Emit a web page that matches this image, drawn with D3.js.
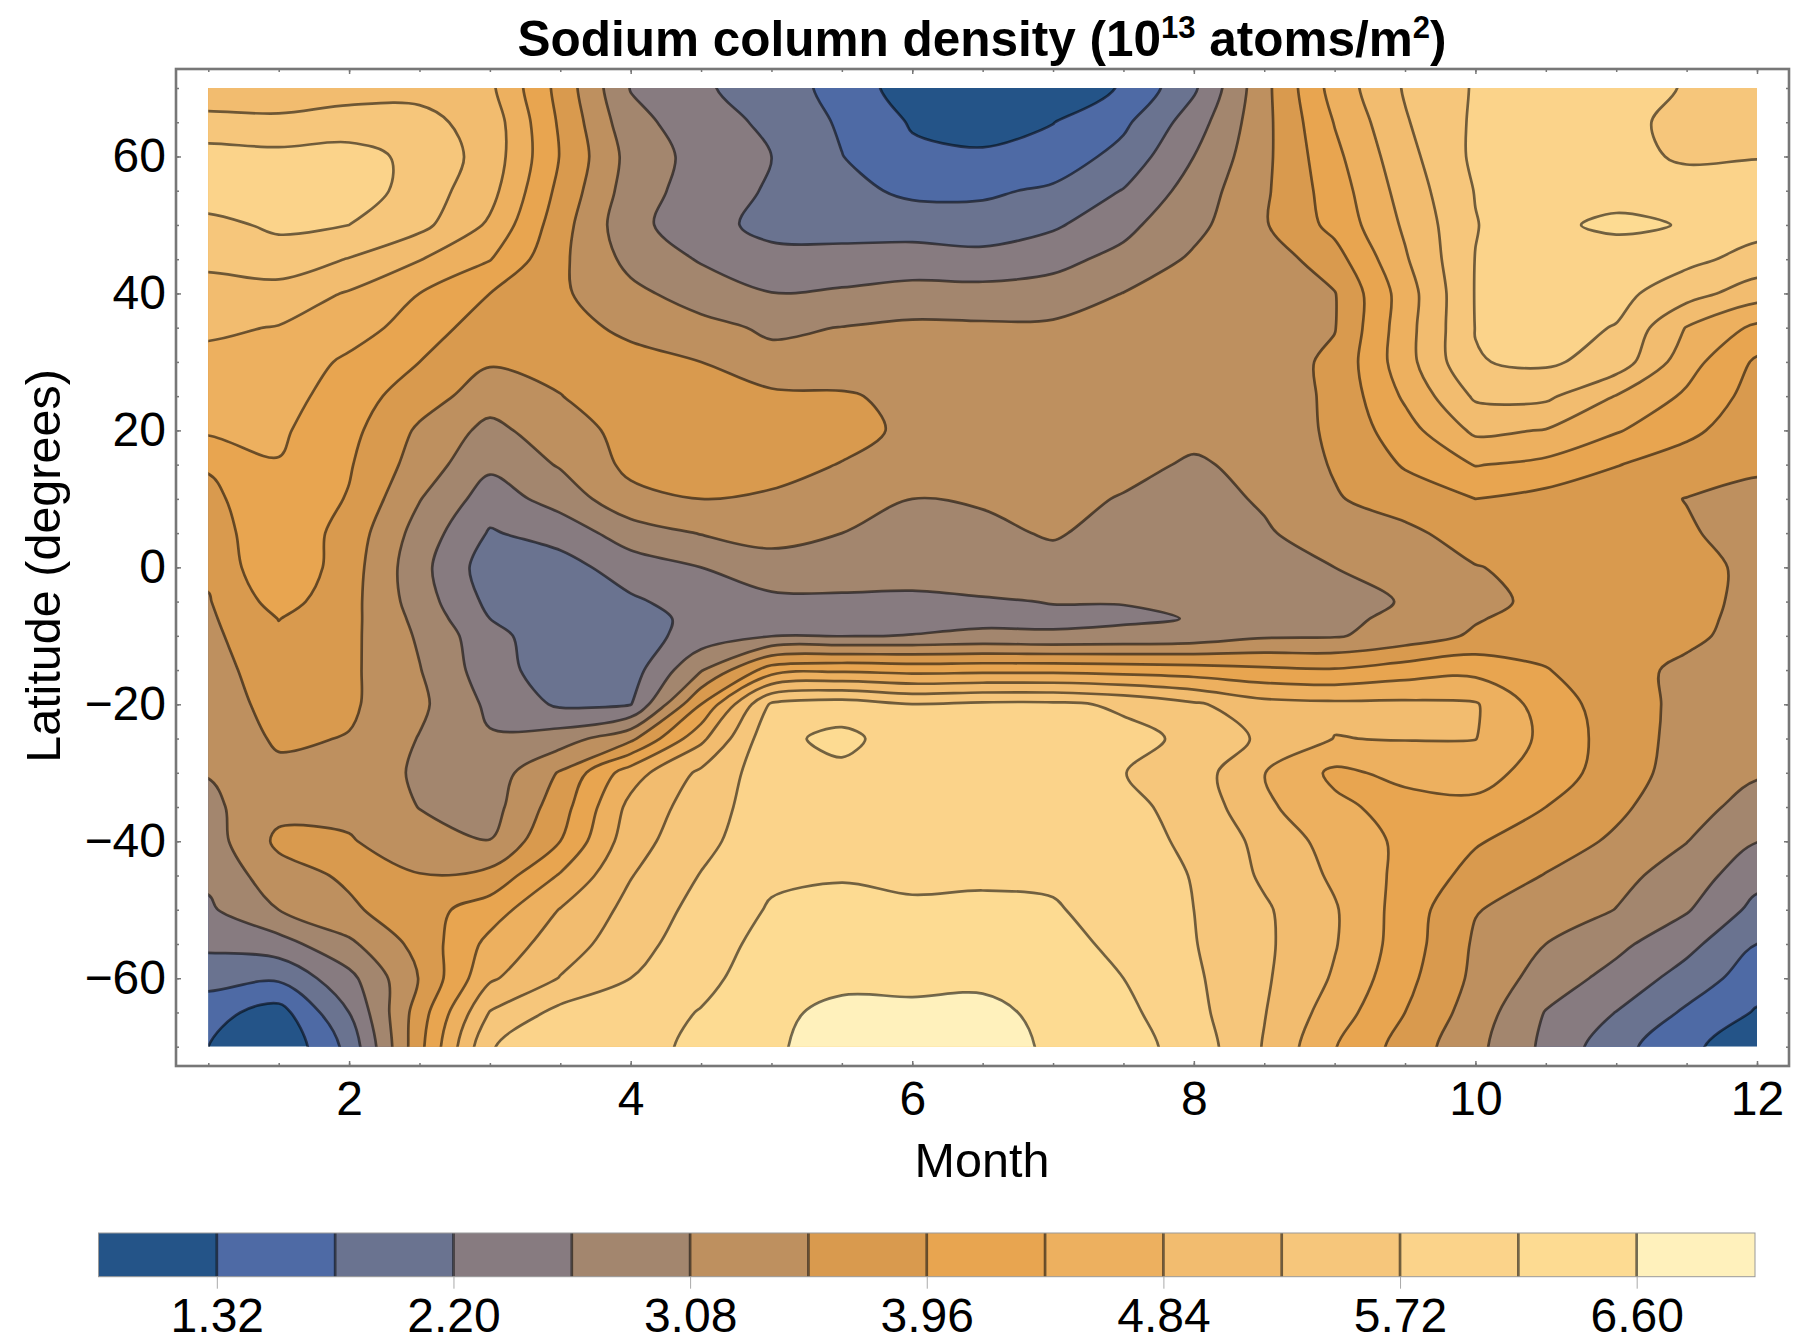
<!DOCTYPE html>
<html>
<head>
<meta charset="utf-8">
<script src="https://cdn.jsdelivr.net/npm/d3@7"></script>
<style>
  html,body{margin:0;padding:0;background:#fff}
  svg{display:block}
  text{font-family:'Liberation Sans',Arial,sans-serif;fill:#000}
</style>
</head>
<body>
<svg id="chart" width="1794" height="1343"></svg>
<script>
const months=[1,1.5,2,2.5,3,3.5,4,4.5,5,5.5,6,6.5,7,7.5,8,8.5,9,9.5,10,10.5,11,11.5,12]
const lats=[70,65,60,55,50,45,40,35,30,25,20,15,10,5,0,-5,-7.5,-10,-15,-20,-25,-30,-35,-40,-45,-50,-55,-60,-65,-70]
const levels=[1.32,1.76,2.20,2.64,3.08,3.52,3.96,4.40,4.84,5.28,5.72,6.16,6.60]
const barEnds=[0.88,7.04]
const barTicks=[1.32,2.20,3.08,3.96,4.84,5.72,6.60]
const bandColors=['#245488','#4e6aa5','#6a7390','#877b80','#a3866e','#be905f','#d99a4e','#e8a550','#edb05f','#f2bc6f','#f6c67b','#fbd38a','#fddb92','#fff1bc']
// one column per month, rows follow lats
const sodium=[
  [4.97,5.43,5.90,5.94,5.61,5.37,5.13,4.91,4.73,4.58,4.47,4.00,3.85,3.73,3.60,3.49,3.45,3.41,3.33,3.25,3.17,3.10,2.98,2.86,2.73,2.57,2.29,1.94,1.47,1.32],
  [5.02,5.37,5.85,5.98,5.79,5.54,5.10,4.82,4.71,4.58,4.47,4.38,4.29,4.31,4.36,4.14,3.97,3.89,3.78,3.70,3.59,3.41,3.39,3.61,3.34,3.08,2.46,1.83,1.14,0.92],
  [5.10,5.46,5.90,5.98,5.72,5.26,4.80,4.62,4.31,4.18,4.09,4.00,3.93,3.78,3.72,3.67,3.65,3.63,3.61,3.59,3.50,3.37,3.39,3.56,3.59,3.45,2.99,2.51,2.20,1.89],
  [5.15,5.41,5.59,5.52,5.41,4.86,4.40,4.18,3.96,3.72,3.45,3.32,3.10,2.90,2.79,2.86,2.95,3.02,3.10,3.17,3.06,3.01,3.07,3.23,3.54,3.78,3.67,3.54,3.74,3.83],
  [4.93,5.10,5.10,4.99,4.77,4.42,3.96,3.74,3.56,3.30,2.95,2.73,2.42,2.16,1.96,2.09,2.20,2.35,2.40,2.55,2.68,2.82,2.90,3.09,3.65,4.18,4.53,4.77,5.30,5.70],
  [3.81,3.89,3.94,3.83,3.70,3.61,3.59,3.67,3.63,3.51,3.34,3.12,2.82,2.38,2.02,1.91,1.89,1.89,1.94,2.13,2.86,3.56,3.76,3.96,4.44,4.86,5.06,5.30,5.85,5.94],
  [2.62,2.78,2.92,2.86,2.77,2.95,3.19,3.43,3.65,3.74,3.65,3.63,3.39,2.86,2.42,2.13,2.07,2.00,2.00,2.18,3.41,4.64,4.97,5.10,5.26,5.41,5.54,5.72,5.96,6.03],
  [2.27,2.41,2.48,2.43,2.38,2.60,2.88,3.21,3.52,3.70,3.78,3.74,3.52,3.10,2.64,2.40,2.29,2.38,3.04,3.96,4.73,5.37,5.50,5.59,5.74,5.87,5.98,6.05,6.18,6.24],
  [1.95,2.10,2.20,2.15,2.05,2.35,2.65,3.01,3.21,3.61,3.74,3.70,3.45,3.26,2.86,2.55,2.52,2.62,4.18,5.79,6.05,5.98,5.98,6.03,6.09,6.20,6.29,6.38,6.49,6.53],
  [1.63,1.70,1.77,1.89,2.07,2.31,2.71,3.09,3.30,3.56,3.70,3.50,3.28,3.08,2.84,2.57,2.52,2.62,4.31,5.94,6.27,6.07,6.05,6.07,6.12,6.31,6.40,6.47,6.73,6.82],
  [1.06,1.28,1.41,1.67,2.00,2.40,2.79,3.17,3.32,3.43,3.41,3.26,3.08,2.93,2.79,2.57,2.53,2.65,4.25,5.73,5.94,6.01,6.03,6.05,6.07,6.23,6.36,6.49,6.69,6.82],
  [1.08,1.21,1.36,1.69,1.94,2.35,2.79,3.15,3.23,3.30,3.28,3.21,3.12,2.99,2.82,2.61,2.55,2.71,4.27,5.81,5.98,6.05,6.07,6.09,6.09,6.25,6.38,6.51,6.71,6.80],
  [1.17,1.31,1.50,1.83,2.13,2.53,2.79,3.17,3.28,3.30,3.28,3.23,3.17,3.12,2.93,2.65,2.59,2.67,4.27,5.81,5.92,5.98,6.03,6.05,6.09,6.20,6.29,6.40,6.49,6.53],
  [1.34,1.67,1.91,2.22,2.53,2.75,3.09,3.17,3.23,3.28,3.26,3.17,3.06,2.93,2.77,2.65,2.60,2.71,4.22,5.65,5.85,5.73,5.83,5.90,5.94,5.98,6.07,6.16,6.27,6.34],
  [2.13,2.42,2.64,2.83,2.95,3.15,3.21,3.23,3.26,3.23,3.17,3.04,2.95,2.86,2.77,2.66,2.65,2.79,4.16,5.35,5.63,5.50,5.57,5.63,5.70,5.72,5.74,5.79,5.85,5.98],
  [3.39,3.39,3.41,3.45,3.48,3.26,3.36,3.39,3.30,3.26,3.21,3.17,3.12,3.04,2.86,2.75,2.86,3.01,4.05,4.99,5.19,4.85,4.93,5.15,5.21,5.34,5.36,5.34,5.30,5.25],
  [4.58,4.42,4.29,4.18,4.09,3.78,3.50,3.50,3.61,3.61,3.61,3.56,3.48,3.26,3.08,2.86,2.95,3.04,4.00,4.93,4.83,4.31,4.49,4.66,4.77,4.88,4.87,4.79,4.62,4.42],
  [5.32,5.24,5.13,5.02,4.91,4.79,4.62,4.66,4.66,4.47,4.22,4.00,3.74,3.41,3.27,3.12,3.21,3.26,4.18,4.93,4.86,4.51,4.25,4.31,4.27,4.20,4.18,4.09,3.96,3.78],
  [5.76,5.79,5.81,5.74,5.70,5.73,5.74,5.73,5.70,5.35,4.93,4.42,3.96,3.74,3.50,3.37,3.48,3.59,4.27,4.88,4.85,4.58,4.29,4.00,3.81,3.54,3.46,3.42,3.31,3.20],
  [6.03,6.12,6.07,6.07,6.09,6.03,5.96,5.87,5.79,5.37,4.82,4.29,3.81,3.70,3.65,3.65,3.72,3.78,3.98,4.18,4.29,4.20,3.96,3.74,3.50,3.34,3.08,2.88,2.62,2.54],
  [5.98,5.85,5.81,6.03,6.23,5.98,5.85,5.70,5.54,4.82,4.44,3.98,3.67,3.63,3.63,3.72,3.73,3.74,3.70,3.75,3.75,3.74,3.61,3.45,3.21,3.07,2.75,2.49,2.19,1.92],
  [5.68,5.59,5.68,5.85,6.14,5.83,5.46,4.82,4.58,4.33,4.07,3.74,3.51,3.56,3.70,3.65,3.65,3.63,3.41,3.39,3.37,3.32,3.23,3.09,2.88,2.68,2.33,2.02,1.69,1.41],
  [5.54,5.61,5.71,5.83,5.87,5.57,5.04,4.31,3.89,3.78,3.67,3.56,3.45,3.37,3.39,3.41,3.37,3.32,3.28,3.23,3.19,3.12,2.93,2.65,2.35,2.07,1.76,1.52,1.28,1.06]
]

const svg=d3.select('#chart')
const frame={left:176,right:1789,top:69,bottom:1066}
const x=d3.scaleLinear().domain([1,12]).range([208.3,1757])
const y=d3.scaleLinear().domain([70,-70]).range([88,1046.7])

// grid padded by one cell on every side so contour rings close outside the plot
const nx=months.length,ny=lats.length
const w=nx+2,h=ny+2
const grid=new Float64Array(w*h)
for(let j=0;j<h;j++){
  for(let i=0;i<w;i++){
    const ci=Math.min(nx-1,Math.max(0,i-1))
    const cj=Math.min(ny-1,Math.max(0,j-1))
    grid[i+j*w]=sodium[ci][cj]
  }
}
const monthOfCol=d3.scaleLinear().domain(months.map((_,i)=>i+1.5)).range(months)
const latOfRow=d3.scaleLinear().domain(lats.map((_,j)=>j+1.5)).range(lats)
const contours=d3.contours().size([w,h]).thresholds(levels)(Array.from(grid))

const ringLine=d3.line()
  .x(p=>x(monthOfCol(p[0])))
  .y(p=>y(latOfRow(p[1])))
  .curve(d3.curveCatmullRomClosed.alpha(0.5))
function contourPath(geo){
  let out=''
  geo.coordinates.forEach(poly=>{
    poly.forEach(ring=>{
      const pts=ring.slice(0,-1).filter((p,i,a)=>{
        if(i===0) return true
        return Math.abs(p[0]-a[i-1][0])+Math.abs(p[1]-a[i-1][1])>0.02
      })
      out+=ringLine(pts)
    })
  })
  return out
}

svg.append('defs').append('clipPath').attr('id','plotClip').append('rect')
  .attr('x',x(1)).attr('y',y(70))
  .attr('width',x(12)-x(1)).attr('height',y(-70)-y(70))

const plot=svg.append('g').attr('clip-path','url(#plotClip)')
plot.append('rect')
  .attr('x',x(1)).attr('y',y(70))
  .attr('width',x(12)-x(1)).attr('height',y(-70)-y(70))
  .attr('fill',bandColors[0])
plot.selectAll('path.band')
  .data(contours)
  .join('path')
  .attr('class','band')
  .attr('d',contourPath)
  .attr('fill',(d,i)=>bandColors[i+1])
  .attr('fill-rule','evenodd')
plot.selectAll('path.iso')
  .data(contours)
  .join('path')
  .attr('class','iso')
  .attr('d',contourPath)
  .attr('fill','none')
  .attr('stroke','#000')
  .attr('stroke-opacity',0.55)
  .attr('stroke-width',2.7)
  .attr('stroke-linejoin','round')

// frame and its inward ticks
svg.append('rect')
  .attr('x',frame.left).attr('y',frame.top)
  .attr('width',frame.right-frame.left).attr('height',frame.bottom-frame.top)
  .attr('fill','none').attr('stroke','#777').attr('stroke-width',2.6)

const monthMinor=d3.range(1,12.5,0.5)
const monthMajor=[2,4,6,8,10,12]
const latMinor=d3.range(-70,75,5)
const latMajor=[-60,-40,-20,0,20,40,60]
function ticks(axisFn,scale,values,size,tx,ty){
  svg.append('g')
    .attr('transform',`translate(${tx},${ty})`)
    .call(axisFn(scale).tickValues(values).tickSize(size).tickFormat(''))
    .call(g=>g.select('.domain').remove())
    .call(g=>g.selectAll('line').attr('stroke','#777').attr('stroke-width',1.5))
}
ticks(d3.axisTop,x,monthMinor,3,0,frame.bottom)
ticks(d3.axisTop,x,monthMajor,5,0,frame.bottom)
ticks(d3.axisBottom,x,monthMinor,3,0,frame.top)
ticks(d3.axisBottom,x,monthMajor,5,0,frame.top)
ticks(d3.axisRight,y,latMinor,3,frame.left,0)
ticks(d3.axisRight,y,latMajor,5,frame.left,0)
ticks(d3.axisLeft,y,latMinor,3,frame.right,0)
ticks(d3.axisLeft,y,latMajor,5,frame.right,0)

function labels(g){
  g.select('.domain').remove()
  g.selectAll('text').style('font-size','48px').style('font-family',"'Liberation Sans',Arial,sans-serif")
}
svg.append('g')
  .attr('transform',`translate(0,${frame.bottom})`)
  .call(d3.axisBottom(x).tickValues(monthMajor).tickSize(0).tickPadding(15))
  .call(labels)
svg.append('g')
  .attr('transform',`translate(${frame.left},0)`)
  .call(d3.axisLeft(y).tickValues(latMajor).tickSize(0).tickPadding(10))
  .call(labels)

svg.append('text')
  .attr('x',982).attr('y',1177)
  .attr('text-anchor','middle')
  .style('font-size','48.5px')
  .text('Month')
svg.append('text')
  .attr('transform','translate(60,566) rotate(-90)')
  .attr('text-anchor','middle')
  .style('font-size','48.5px')
  .text('Latitude (degrees)')

const title=svg.append('text')
  .attr('x',982).attr('y',56)
  .attr('text-anchor','middle')
  .style('font-size','49.5px')
  .style('font-weight','700')
title.append('tspan').text('Sodium column density (10')
title.append('tspan').attr('dy',-18).style('font-size','31px').text('13')
title.append('tspan').attr('dy',18).text(' atoms/m')
title.append('tspan').attr('dy',-18).style('font-size','31px').text('2')
title.append('tspan').attr('dy',18).text(')')

// colour bar
const barScale=d3.scaleLinear().domain(barEnds).range([98.5,1755])
const barTop=1233,barBottom=1276.7
const barEdges=[barEnds[0],...levels,barEnds[1]]
const bar=svg.append('g')
bar.selectAll('rect')
  .data(bandColors)
  .join('rect')
  .attr('x',(d,i)=>barScale(barEdges[i]))
  .attr('y',barTop)
  .attr('width',(d,i)=>barScale(barEdges[i+1])-barScale(barEdges[i]))
  .attr('height',barBottom-barTop)
  .attr('fill',d=>d)
bar.selectAll('line')
  .data(levels)
  .join('line')
  .attr('x1',d=>barScale(d)).attr('x2',d=>barScale(d))
  .attr('y1',barTop).attr('y2',barBottom)
  .attr('stroke','#000').attr('stroke-opacity',0.55).attr('stroke-width',2.7)
bar.append('rect')
  .attr('x',barScale(barEnds[0])).attr('y',barTop)
  .attr('width',barScale(barEnds[1])-barScale(barEnds[0])).attr('height',barBottom-barTop)
  .attr('fill','none').attr('stroke','#999').attr('stroke-width',1)
svg.append('g')
  .attr('transform',`translate(0,${barBottom})`)
  .call(d3.axisBottom(barScale).tickValues(barTicks).tickSize(12).tickPadding(9.5).tickFormat(d3.format('.2f')))
  .call(labels)
  .call(g=>g.selectAll('line').attr('stroke','#aaa').attr('stroke-width',1))
</script>
</body>
</html>
